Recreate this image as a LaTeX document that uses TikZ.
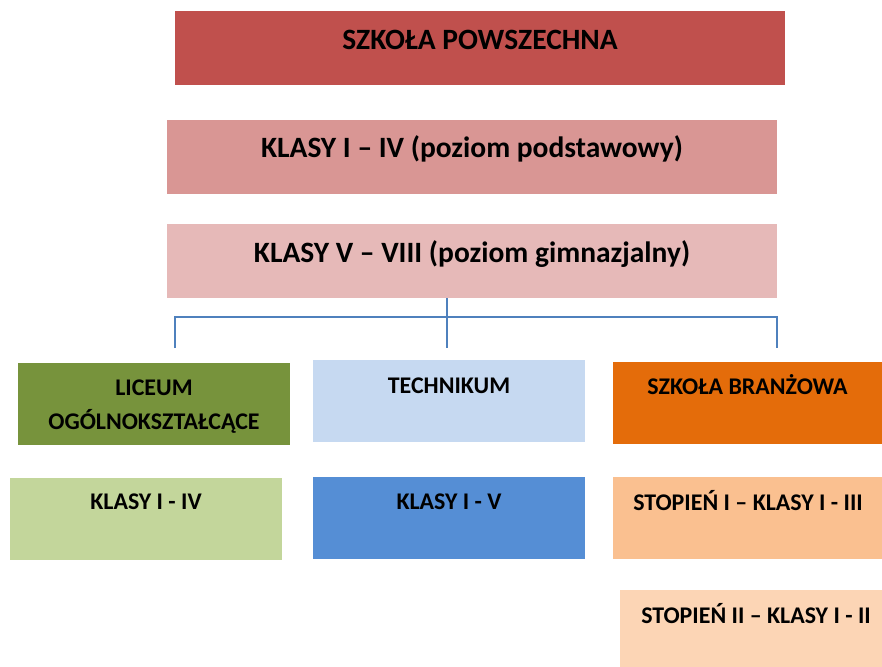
\documentclass[tikz,border=0pt]{standalone}
\usepackage{fontspec}
\setmainfont{Carlito}
\usetikzlibrary{positioning}

\definecolor{powszC}{HTML}{C0504D}
\definecolor{podstC}{HTML}{D99694}
\definecolor{gimnC}{HTML}{E6B9B8}
\definecolor{liceumC}{HTML}{77933C}
\definecolor{technC}{HTML}{C6D9F1}
\definecolor{branzC}{HTML}{E46C0A}
\definecolor{loC}{HTML}{C3D69B}
\definecolor{tkC}{HTML}{558ED5}
\definecolor{stIC}{HTML}{FAC090}
\definecolor{stIIC}{HTML}{FCD5B5}
\definecolor{connC}{HTML}{4F81BD}

\begin{document}
\begin{tikzpicture}[x=1bp,y=-1bp,
every node/.style={anchor=center,
inner sep=0pt,
outer sep=0pt
},
box/.style={%
minimum width=272bp,
minimum height=82bp
},
wide/.style={%
minimum width=610bp,
minimum height=74bp
},
big/.style={%
anchor=base,
font=\fontsize{29.6}{34}\selectfont\bfseries
},
small/.style={%
anchor=base,
align=center,
font=\fontsize{24}{34}\selectfont\bfseries
},
conn/.style={connC,line width=2bp}]
\useasboundingbox (0,0) rectangle (882,667);
% upper level
\node[wide,fill=powszC]at(480,48)(powsz){};
\node[wide,fill=podstC]at(472,157)(podst){};
\node[wide,fill=gimnC]at(472,261)(gimn){};
\node[big]at(480,50)(tpowsz){SZKOŁA POWSZECHNA};
\node[big]at(472,158)(tpodst){KLASY I – IV (poziom podstawowy)};
\node[big]at(472,262)(tgimn){KLASY V – VIII (poziom gimnazjalny)};
% school types
\node[box,fill=liceumC]at(154,403.5)(liceum){};
\node[box,fill=technC]at(449,401)(techn){};
\node[box,minimum width=269bp,fill=branzC]at(747.5,402.5)(branz){};
\node[small]at(154,429)(tliceum){LICEUM\\OGÓLNOKSZTAŁCĄCE};
\node[small]at(449,393)(ttechn){TECHNIKUM};
\node[small]at(747.5,394)(tbranz){SZKOŁA BRANŻOWA};
% classes
\node[box,fill=loC]at(146,518.5)(lo){};
\node[box,fill=tkC]at(449,518)(tk){};
\node[box,minimum width=269bp,fill=stIC]at(747.5,518)(stI){};
\node[box,minimum width=262bp,minimum height=77bp,fill=stIIC]at(751,628.5)(stII){};
\node[small]at(146,509)(tlo){KLASY I - IV};
\node[small]at(449,509)(ttk){KLASY I - V};
\node[small]at(748,510)(tstI){STOPIEŃ I – KLASY I - III};
\node[small]at(756,623)(tstII){STOPIEŃ II – KLASY I - II};
% connector
\coordinate (jl) at (175,348);
\coordinate (jm) at (447,348);
\coordinate (jr) at (777,348);
\draw[conn] (gimn.south -| jm)--(jm);
\draw[conn] (jl)--++(0,-31)-|(jr);
\end{tikzpicture}
\end{document}
